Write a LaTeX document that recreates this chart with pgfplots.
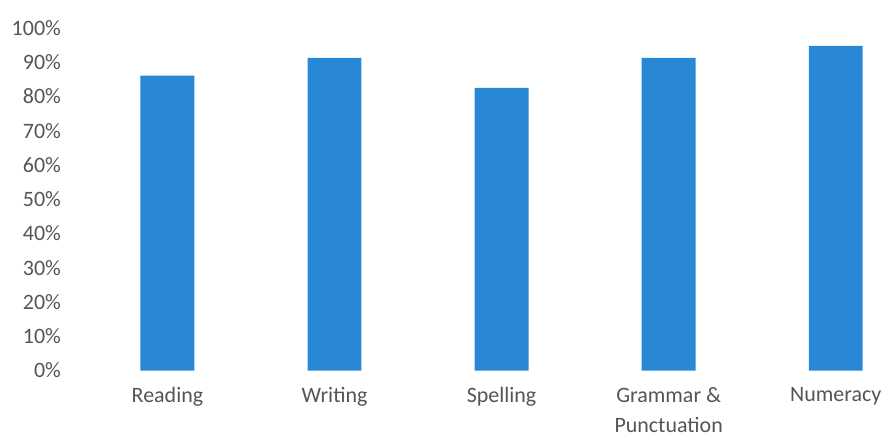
\documentclass[border=0pt]{standalone}
\usepackage{pgfplots}
\pgfplotsset{compat=1.18}
\usepackage{fontspec}
\setmainfont{Carlito}
\definecolor{barblue}{RGB}{40,136,214}
\definecolor{txtgray}{RGB}{85,85,85}
\begin{document}
\begin{tikzpicture}
\begin{axis}[name=ax, scale only axis, width=402pt, height=171.5pt,
 xmin=-0.5, xmax=4.306, ymin=0, ymax=100,
 axis line style={draw=none}, major tick length=0pt,
 xtick={0,1,2,3,4},
 xticklabels={Reading,Writing,Spelling,{Grammar \&\\Punctuation},Numeracy},
 xticklabel style={align=center, font=\fontsize{11}{15}\selectfont, text=txtgray, yshift=-5pt},
 ytick={0,10,20,30,40,50,60,70,80,90,100},
 yticklabels={0\%,10\%,20\%,30\%,40\%,50\%,60\%,70\%,80\%,90\%,100\%},
 yticklabel style={font=\fontsize{11}{15}\selectfont, text=txtgray, xshift=-8pt},
 clip=false]
\addplot[ybar, bar width=27pt, fill=barblue, draw=none] coordinates {(0,86.1) (1,91.3) (2,82.5) (3,91.3) (4,94.8)};
\end{axis}
\path (ax.south west) ++(-42pt,-34pt) rectangle ++(444pt,219.5pt);
\end{tikzpicture}
\end{document}
